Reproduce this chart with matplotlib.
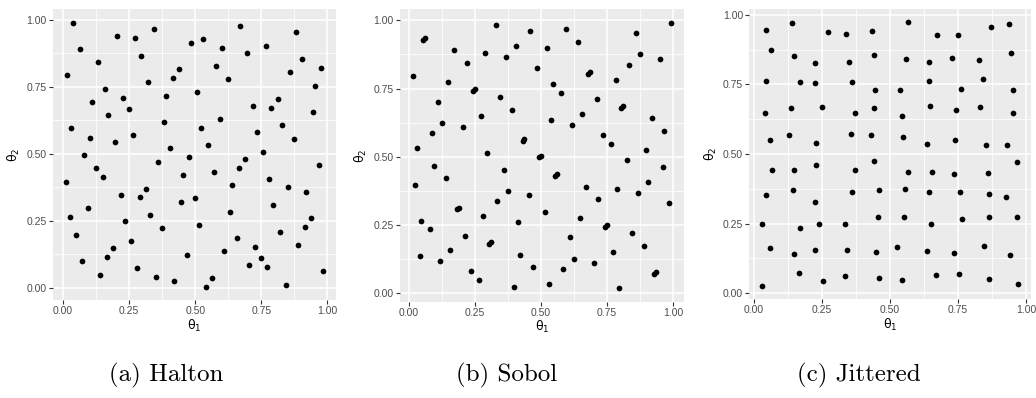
import matplotlib
matplotlib.use("Agg")
from matplotlib import pyplot as plt
from matplotlib.ticker import FixedLocator

# points (theta_1, theta_2)
halton_x = [0.039, 0.062, 0.015, 0.133, 0.202, 0.272, 0.343, 0.296, 0.157, 0.320,
            0.437, 0.414, 0.109, 0.226, 0.249, 0.390, 0.171, 0.381, 0.030, 0.101,
            0.266, 0.196, 0.406, 0.078, 0.360,
            0.483, 0.530, 0.601, 0.671, 0.695, 0.766, 0.882, 0.906, 0.858, 0.977,
            0.952, 0.578, 0.625, 0.507, 0.719, 0.788, 0.812, 0.945, 0.594, 0.523,
            0.827, 0.734, 0.874, 0.547, 0.758, 0.477, 0.688,
            0.125, 0.149, 0.009, 0.452, 0.219, 0.290, 0.313, 0.445, 0.094, 0.024,
            0.328, 0.233, 0.374, 0.048, 0.258, 0.188, 0.164, 0.071, 0.281, 0.140,
            0.352, 0.421, 0.468,
            0.571, 0.664, 0.969, 0.781, 0.850, 0.640, 0.920, 0.500, 0.796, 0.633,
            0.938, 0.914, 0.515, 0.820, 0.657, 0.890, 0.726, 0.610, 0.749, 0.702,
            0.773, 0.983, 0.562, 0.539, 0.843]
halton_y = [0.989, 0.890, 0.792, 0.840, 0.939, 0.931, 0.964, 0.865, 0.741, 0.766,
            0.815, 0.782, 0.693, 0.709, 0.667, 0.716, 0.643, 0.617, 0.594, 0.560,
            0.569, 0.544, 0.520, 0.494, 0.470,
            0.914, 0.927, 0.893, 0.976, 0.877, 0.902, 0.952, 0.853, 0.803, 0.820,
            0.753, 0.828, 0.778, 0.729, 0.679, 0.672, 0.704, 0.656, 0.631, 0.597,
            0.606, 0.581, 0.556, 0.532, 0.507, 0.487, 0.482,
            0.445, 0.412, 0.395, 0.420, 0.345, 0.337, 0.370, 0.321, 0.297, 0.264,
            0.271, 0.248, 0.223, 0.198, 0.173, 0.148, 0.115, 0.099, 0.074, 0.049,
            0.041, 0.025, 0.124,
            0.432, 0.448, 0.457, 0.407, 0.375, 0.383, 0.358, 0.334, 0.308, 0.283,
            0.260, 0.228, 0.235, 0.209, 0.186, 0.161, 0.152, 0.136, 0.111, 0.087,
            0.078, 0.062, 0.037, 0.004, 0.012]

sobol_x = [0.016, 0.056, 0.062, 0.172, 0.220, 0.149, 0.244, 0.250, 0.329, 0.288,
           0.368, 0.406, 0.110, 0.344, 0.391, 0.125, 0.274, 0.204, 0.087, 0.033,
           0.297, 0.431, 0.437,
           0.461, 0.594, 0.523, 0.641, 0.484, 0.679, 0.685, 0.547, 0.578, 0.783,
           0.860, 0.876, 0.835, 0.953, 0.992, 0.712, 0.805, 0.812, 0.656, 0.540,
           0.617, 0.921, 0.968, 0.734, 0.765, 0.897, 0.494, 0.500, 0.827,
           0.095, 0.142, 0.025, 0.360, 0.375, 0.336, 0.183, 0.190, 0.282, 0.048,
           0.080, 0.413, 0.212, 0.305, 0.312, 0.158, 0.042, 0.423, 0.119, 0.235,
           0.268, 0.399,
           0.555, 0.561, 0.961, 0.906, 0.672, 0.789, 0.867, 0.718, 0.454, 0.984,
           0.516, 0.649, 0.743, 0.750, 0.844, 0.609, 0.890, 0.774, 0.624, 0.469,
           0.703, 0.585, 0.929, 0.937, 0.532, 0.796]
sobol_y = [0.797, 0.929, 0.935, 0.890, 0.844, 0.774, 0.742, 0.749, 0.984, 0.882,
           0.866, 0.905, 0.702, 0.718, 0.672, 0.625, 0.648, 0.610, 0.585, 0.531,
           0.515, 0.558, 0.565,
           0.961, 0.968, 0.898, 0.921, 0.827, 0.804, 0.811, 0.766, 0.734, 0.781,
           0.953, 0.876, 0.836, 0.860, 0.992, 0.711, 0.680, 0.686, 0.655, 0.633,
           0.617, 0.641, 0.594, 0.578, 0.546, 0.524, 0.497, 0.502, 0.487,
           0.467, 0.420, 0.397, 0.452, 0.375, 0.336, 0.308, 0.313, 0.281, 0.265,
           0.234, 0.258, 0.210, 0.179, 0.186, 0.156, 0.134, 0.140, 0.117, 0.079,
           0.047, 0.023,
           0.429, 0.436, 0.460, 0.407, 0.390, 0.382, 0.366, 0.343, 0.359, 0.328,
           0.296, 0.273, 0.242, 0.248, 0.219, 0.203, 0.172, 0.149, 0.125, 0.095,
           0.108, 0.086, 0.070, 0.077, 0.032, 0.016]

jitter_x = [0.044, 0.140, 0.061, 0.148, 0.273, 0.339, 0.226, 0.351, 0.043, 0.169,
            0.226, 0.361, 0.039, 0.137, 0.251, 0.371, 0.059, 0.130, 0.227, 0.356,
            0.433, 0.566, 0.673, 0.751, 0.872, 0.937, 0.440, 0.559, 0.644, 0.729,
            0.826, 0.943, 0.645, 0.841, 0.445, 0.538, 0.762, 0.951, 0.441, 0.545,
            0.647, 0.743, 0.829, 0.953, 0.430, 0.549, 0.635, 0.740, 0.853, 0.929,
            0.065, 0.147, 0.227, 0.371, 0.043, 0.142, 0.226, 0.362, 0.030, 0.170,
            0.240, 0.334, 0.059, 0.148, 0.226, 0.342, 0.165, 0.252, 0.334, 0.031,
            0.440, 0.966, 0.566, 0.655, 0.735, 0.860, 0.461, 0.555, 0.642, 0.758,
            0.864, 0.926, 0.457, 0.551, 0.650, 0.766, 0.862, 0.968, 0.450, 0.527,
            0.636, 0.734, 0.846, 0.940, 0.460, 0.543, 0.669, 0.753, 0.865, 0.972]
jitter_y = [0.945, 0.970, 0.873, 0.854, 0.937, 0.932, 0.827, 0.831, 0.762, 0.758,
            0.755, 0.758, 0.646, 0.665, 0.670, 0.648, 0.552, 0.568, 0.539, 0.571,
            0.944, 0.973, 0.927, 0.928, 0.957, 0.966, 0.857, 0.841, 0.831, 0.844,
            0.839, 0.862, 0.762, 0.770, 0.731, 0.729, 0.734, 0.730, 0.666, 0.637,
            0.671, 0.658, 0.670, 0.646, 0.568, 0.562, 0.537, 0.549, 0.531, 0.533,
            0.441, 0.442, 0.460, 0.442, 0.353, 0.369, 0.328, 0.362, 0.248, 0.235,
            0.248, 0.248, 0.162, 0.139, 0.156, 0.154, 0.073, 0.045, 0.063, 0.026,
            0.474, 0.470, 0.435, 0.436, 0.428, 0.433, 0.369, 0.373, 0.364, 0.362,
            0.357, 0.345, 0.272, 0.272, 0.247, 0.267, 0.273, 0.272, 0.147, 0.166,
            0.151, 0.145, 0.170, 0.136, 0.055, 0.047, 0.066, 0.070, 0.050, 0.031]

ticks = [0.0, 0.25, 0.5, 0.75, 1.0]
tick_labels = ["0.00", "0.25", "0.50", "0.75", "1.00"]
minor_ticks = [0.125, 0.375, 0.625, 0.875]
captions = ["(a) Halton", "(b) Sobol", "(c) Jittered"]

W, H = 1036, 398


def draw_panel(fig, box, x, y):
    # box = left, top, right, bottom in pixels
    l, t, r, b = box
    ax = fig.add_axes([l / W, 1 - b / H, (r - l) / W, (b - t) / H])
    ax.set_facecolor("#EBEBEB")
    ax.scatter(x, y, s=17, color="black", linewidths=0, zorder=3)
    ax.margins(0.05)  # same 5% padding ggplot uses

    ax.set_xticks(ticks)
    ax.set_xticklabels(tick_labels)
    ax.set_yticks(ticks)
    ax.set_yticklabels(tick_labels)
    ax.xaxis.set_minor_locator(FixedLocator(minor_ticks))
    ax.yaxis.set_minor_locator(FixedLocator(minor_ticks))

    ax.grid(which="major", color="white", linewidth=1.1)
    ax.grid(which="minor", color="white", linewidth=0.55)
    ax.set_axisbelow(True)
    for s in ax.spines.values():
        s.set_visible(False)
    ax.tick_params(which="major", length=3, width=0.8, color="#333333",
                   labelcolor="#4D4D4D", labelsize=7.5, pad=1.5)
    ax.tick_params(which="minor", length=0)

    # upright theta like the R expression labels
    ax.set_xlabel("θ$_1$", fontsize=9, labelpad=1, family="DejaVu Sans")
    ax.set_ylabel("θ$_2$", fontsize=9, labelpad=3, family="DejaVu Sans")
    return ax


def my_plot():
    plt.rcParams["font.family"] = ["Liberation Sans", "DejaVu Sans"]
    fig = plt.figure(figsize=(W / 100, H / 100), dpi=100)

    draw_panel(fig, (52.7, 9.3, 335.7, 300.0), halton_x, halton_y)
    draw_panel(fig, (400.0, 9.3, 683.7, 301.7), sobol_x, sobol_y)
    draw_panel(fig, (749.3, 9.3, 1031.3, 299.0), jitter_x, jitter_y)

    for cx, txt in zip([166, 507, 859], captions):
        fig.text(cx / W, 1 - 375 / H, txt, ha="center", va="center",
                 fontsize=18, family="cmr10")

    plt.savefig("out.png", dpi=100)


if __name__ == "__main__":
    my_plot()
